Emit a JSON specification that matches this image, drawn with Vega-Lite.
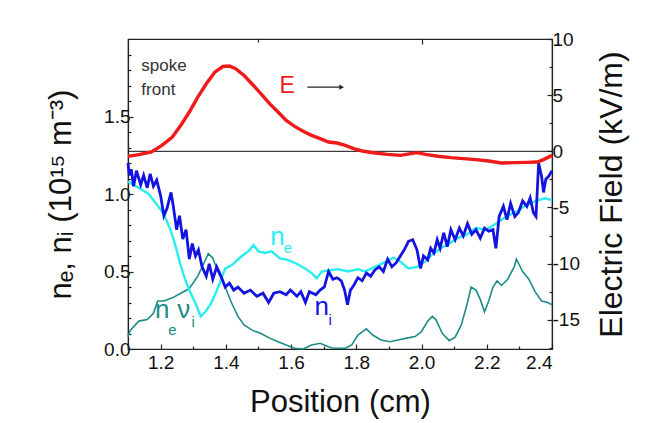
{
  "$schema": "https://vega.github.io/schema/vega-lite/v6.json",
  "width": 424,
  "height": 310,
  "autosize": {"type": "none"},
  "padding": {"left": 128, "top": 39, "right": 104, "bottom": 74},
  "background": "white",
  "config": {
    "font": "Liberation Sans",
    "view": {"stroke": "#222", "strokeWidth": 1.2},
    "axis": {
      "grid": false,
      "domainColor": "#222",
      "domainWidth": 1.2,
      "tickColor": "#222",
      "tickWidth": 1.2,
      "labelColor": "#111",
      "titleColor": "#111",
      "labelFont": "Liberation Sans",
      "titleFont": "Liberation Sans",
      "labelFontSize": 19,
      "titleFontSize": 31,
      "titleFontWeight": "normal",
      "labelOverlap": false
    }
  },
  "datasets": {
    "ne": [
      {"x": 1.10, "v": 1.08}, {"x": 1.133, "v": 1.04}, {"x": 1.163, "v": 1.00}, {"x": 1.189, "v": 0.93},
      {"x": 1.20, "v": 0.90}, {"x": 1.214, "v": 0.85}, {"x": 1.23, "v": 0.77}, {"x": 1.245, "v": 0.67},
      {"x": 1.26, "v": 0.55}, {"x": 1.275, "v": 0.45}, {"x": 1.29, "v": 0.37}, {"x": 1.306, "v": 0.30},
      {"x": 1.323, "v": 0.21}, {"x": 1.337, "v": 0.24}, {"x": 1.352, "v": 0.285}, {"x": 1.367, "v": 0.35},
      {"x": 1.383, "v": 0.435}, {"x": 1.398, "v": 0.52}, {"x": 1.418, "v": 0.54}, {"x": 1.449, "v": 0.60},
      {"x": 1.469, "v": 0.63}, {"x": 1.485, "v": 0.67}, {"x": 1.50, "v": 0.63}, {"x": 1.52, "v": 0.62},
      {"x": 1.54, "v": 0.63}, {"x": 1.566, "v": 0.585}, {"x": 1.59, "v": 0.575}, {"x": 1.617, "v": 0.55},
      {"x": 1.643, "v": 0.52}, {"x": 1.663, "v": 0.49}, {"x": 1.679, "v": 0.457}, {"x": 1.694, "v": 0.50},
      {"x": 1.725, "v": 0.51}, {"x": 1.743, "v": 0.515}, {"x": 1.774, "v": 0.50}, {"x": 1.805, "v": 0.515},
      {"x": 1.826, "v": 0.50}, {"x": 1.857, "v": 0.53}, {"x": 1.888, "v": 0.56}, {"x": 1.914, "v": 0.59},
      {"x": 1.934, "v": 0.565}, {"x": 1.96, "v": 0.52}, {"x": 1.986, "v": 0.53}, {"x": 2.012, "v": 0.565},
      {"x": 2.033, "v": 0.61}, {"x": 2.059, "v": 0.65}, {"x": 2.084, "v": 0.68}, {"x": 2.11, "v": 0.715},
      {"x": 2.136, "v": 0.735}, {"x": 2.167, "v": 0.78}, {"x": 2.198, "v": 0.77}, {"x": 2.229, "v": 0.81},
      {"x": 2.26, "v": 0.855}, {"x": 2.291, "v": 0.886}, {"x": 2.322, "v": 0.93}, {"x": 2.353, "v": 0.957},
      {"x": 2.379, "v": 0.972}, {"x": 2.40, "v": 0.96}
    ],
    "ni": [
      {"x": 1.10, "v": 1.20}, {"x": 1.104, "v": 1.12}, {"x": 1.11, "v": 1.16}, {"x": 1.117, "v": 1.05},
      {"x": 1.126, "v": 1.15}, {"x": 1.139, "v": 1.06}, {"x": 1.148, "v": 1.12}, {"x": 1.159, "v": 1.04},
      {"x": 1.168, "v": 1.13}, {"x": 1.178, "v": 1.05}, {"x": 1.188, "v": 1.09}, {"x": 1.20, "v": 0.99},
      {"x": 1.21, "v": 0.86}, {"x": 1.22, "v": 0.91}, {"x": 1.232, "v": 1.01}, {"x": 1.239, "v": 0.92},
      {"x": 1.249, "v": 0.77}, {"x": 1.258, "v": 0.86}, {"x": 1.268, "v": 0.71}, {"x": 1.278, "v": 0.77},
      {"x": 1.288, "v": 0.58}, {"x": 1.297, "v": 0.68}, {"x": 1.307, "v": 0.60}, {"x": 1.316, "v": 0.64},
      {"x": 1.327, "v": 0.53}, {"x": 1.34, "v": 0.47}, {"x": 1.349, "v": 0.55}, {"x": 1.36, "v": 0.45},
      {"x": 1.372, "v": 0.53}, {"x": 1.385, "v": 0.47}, {"x": 1.398, "v": 0.40}, {"x": 1.411, "v": 0.425},
      {"x": 1.424, "v": 0.38}, {"x": 1.437, "v": 0.40}, {"x": 1.456, "v": 0.36}, {"x": 1.475, "v": 0.38},
      {"x": 1.495, "v": 0.34}, {"x": 1.514, "v": 0.36}, {"x": 1.531, "v": 0.30}, {"x": 1.547, "v": 0.36},
      {"x": 1.566, "v": 0.37}, {"x": 1.585, "v": 0.35}, {"x": 1.598, "v": 0.38}, {"x": 1.618, "v": 0.34},
      {"x": 1.63, "v": 0.37}, {"x": 1.644, "v": 0.30}, {"x": 1.656, "v": 0.37}, {"x": 1.676, "v": 0.35},
      {"x": 1.689, "v": 0.38}, {"x": 1.702, "v": 0.40}, {"x": 1.715, "v": 0.50}, {"x": 1.728, "v": 0.45},
      {"x": 1.741, "v": 0.46}, {"x": 1.754, "v": 0.44}, {"x": 1.764, "v": 0.38}, {"x": 1.773, "v": 0.285},
      {"x": 1.782, "v": 0.38}, {"x": 1.792, "v": 0.41}, {"x": 1.805, "v": 0.46}, {"x": 1.818, "v": 0.44},
      {"x": 1.831, "v": 0.49}, {"x": 1.844, "v": 0.47}, {"x": 1.857, "v": 0.51}, {"x": 1.87, "v": 0.53},
      {"x": 1.883, "v": 0.50}, {"x": 1.896, "v": 0.58}, {"x": 1.909, "v": 0.53}, {"x": 1.922, "v": 0.555},
      {"x": 1.935, "v": 0.60}, {"x": 1.947, "v": 0.64}, {"x": 1.96, "v": 0.695}, {"x": 1.973, "v": 0.705},
      {"x": 1.986, "v": 0.64}, {"x": 1.997, "v": 0.52}, {"x": 2.006, "v": 0.60}, {"x": 2.019, "v": 0.575},
      {"x": 2.028, "v": 0.65}, {"x": 2.038, "v": 0.62}, {"x": 2.048, "v": 0.705}, {"x": 2.057, "v": 0.65},
      {"x": 2.068, "v": 0.75}, {"x": 2.079, "v": 0.66}, {"x": 2.09, "v": 0.77}, {"x": 2.103, "v": 0.705},
      {"x": 2.116, "v": 0.78}, {"x": 2.128, "v": 0.73}, {"x": 2.141, "v": 0.81}, {"x": 2.154, "v": 0.74},
      {"x": 2.167, "v": 0.77}, {"x": 2.18, "v": 0.715}, {"x": 2.193, "v": 0.78}, {"x": 2.206, "v": 0.76},
      {"x": 2.219, "v": 0.77}, {"x": 2.228, "v": 0.65}, {"x": 2.238, "v": 0.855}, {"x": 2.251, "v": 0.92},
      {"x": 2.262, "v": 0.835}, {"x": 2.273, "v": 0.94}, {"x": 2.286, "v": 0.855}, {"x": 2.297, "v": 0.88},
      {"x": 2.31, "v": 0.955}, {"x": 2.323, "v": 0.92}, {"x": 2.333, "v": 0.975}, {"x": 2.343, "v": 0.88},
      {"x": 2.351, "v": 0.855}, {"x": 2.359, "v": 1.20}, {"x": 2.368, "v": 1.115}, {"x": 2.374, "v": 1.01},
      {"x": 2.381, "v": 1.095}, {"x": 2.39, "v": 1.115}, {"x": 2.40, "v": 1.15}
    ],
    "nev": [
      {"x": 1.10, "v": 0.08}, {"x": 1.107, "v": 0.12}, {"x": 1.133, "v": 0.18}, {"x": 1.159, "v": 0.19},
      {"x": 1.178, "v": 0.23}, {"x": 1.191, "v": 0.31}, {"x": 1.21, "v": 0.31}, {"x": 1.236, "v": 0.33},
      {"x": 1.262, "v": 0.36}, {"x": 1.288, "v": 0.39}, {"x": 1.314, "v": 0.47}, {"x": 1.333, "v": 0.555},
      {"x": 1.346, "v": 0.615}, {"x": 1.359, "v": 0.59}, {"x": 1.378, "v": 0.49}, {"x": 1.398, "v": 0.40},
      {"x": 1.417, "v": 0.30}, {"x": 1.437, "v": 0.21}, {"x": 1.456, "v": 0.155}, {"x": 1.482, "v": 0.12},
      {"x": 1.508, "v": 0.10}, {"x": 1.534, "v": 0.07}, {"x": 1.56, "v": 0.047}, {"x": 1.585, "v": 0.026},
      {"x": 1.611, "v": 0.005}, {"x": 1.637, "v": 0.0}, {"x": 1.663, "v": 0.026}, {"x": 1.689, "v": 0.037},
      {"x": 1.715, "v": 0.015}, {"x": 1.728, "v": 0.005}, {"x": 1.766, "v": 0.005}, {"x": 1.786, "v": 0.026},
      {"x": 1.805, "v": 0.09}, {"x": 1.831, "v": 0.13}, {"x": 1.85, "v": 0.09}, {"x": 1.876, "v": 0.058},
      {"x": 1.902, "v": 0.047}, {"x": 1.928, "v": 0.058}, {"x": 1.954, "v": 0.07}, {"x": 1.98, "v": 0.08},
      {"x": 1.999, "v": 0.11}, {"x": 2.019, "v": 0.18}, {"x": 2.033, "v": 0.21}, {"x": 2.044, "v": 0.19},
      {"x": 2.064, "v": 0.10}, {"x": 2.085, "v": 0.054}, {"x": 2.103, "v": 0.076}, {"x": 2.122, "v": 0.155},
      {"x": 2.141, "v": 0.30}, {"x": 2.152, "v": 0.40}, {"x": 2.167, "v": 0.38}, {"x": 2.18, "v": 0.32},
      {"x": 2.193, "v": 0.24}, {"x": 2.206, "v": 0.31}, {"x": 2.219, "v": 0.40}, {"x": 2.232, "v": 0.44},
      {"x": 2.245, "v": 0.41}, {"x": 2.264, "v": 0.45}, {"x": 2.284, "v": 0.53}, {"x": 2.291, "v": 0.58},
      {"x": 2.31, "v": 0.50}, {"x": 2.329, "v": 0.45}, {"x": 2.348, "v": 0.37}, {"x": 2.368, "v": 0.31},
      {"x": 2.387, "v": 0.30}, {"x": 2.40, "v": 0.285}
    ],
    "efield": [
      {"x": 1.10, "e": -0.45}, {"x": 1.133, "e": -0.30}, {"x": 1.172, "e": -0.06}, {"x": 1.204, "e": 0.53},
      {"x": 1.236, "e": 1.27}, {"x": 1.262, "e": 2.31}, {"x": 1.288, "e": 3.50}, {"x": 1.314, "e": 4.83},
      {"x": 1.34, "e": 6.01}, {"x": 1.366, "e": 7.05}, {"x": 1.391, "e": 7.55}, {"x": 1.411, "e": 7.6},
      {"x": 1.43, "e": 7.35}, {"x": 1.456, "e": 6.75}, {"x": 1.482, "e": 5.95}, {"x": 1.508, "e": 5.12},
      {"x": 1.534, "e": 4.24}, {"x": 1.56, "e": 3.50}, {"x": 1.585, "e": 2.75}, {"x": 1.611, "e": 2.22},
      {"x": 1.637, "e": 1.78}, {"x": 1.663, "e": 1.42}, {"x": 1.689, "e": 1.13}, {"x": 1.715, "e": 0.83},
      {"x": 1.741, "e": 0.74}, {"x": 1.766, "e": 0.53}, {"x": 1.792, "e": 0.24}, {"x": 1.818, "e": 0.03},
      {"x": 1.857, "e": -0.15}, {"x": 1.896, "e": -0.27}, {"x": 1.935, "e": -0.36}, {"x": 1.967, "e": -0.21},
      {"x": 1.986, "e": -0.12}, {"x": 2.012, "e": -0.27}, {"x": 2.051, "e": -0.44}, {"x": 2.09, "e": -0.56},
      {"x": 2.128, "e": -0.65}, {"x": 2.167, "e": -0.74}, {"x": 2.206, "e": -0.86}, {"x": 2.245, "e": -1.04},
      {"x": 2.284, "e": -1.01}, {"x": 2.323, "e": -0.98}, {"x": 2.355, "e": -0.95}, {"x": 2.374, "e": -0.74},
      {"x": 2.40, "e": -0.36}
    ],
    "notes": [
      {"x": 1.141, "y": 1.823, "t": "spoke"},
      {"x": 1.141, "y": 1.674, "t": "front"}
    ],
    "elabel": [{"x": 1.588, "y": 1.696, "t": "E"}],
    "arrow": [{"x": 1.650, "x2": 1.752, "y": 1.689}],
    "arrowhead": [{"x": 1.755, "y": 1.689}],
    "letters": [
      {"x": 1.558, "y": 0.724, "t": "n", "s": "ne"},
      {"x": 1.694, "y": 0.268, "t": "n", "s": "ni"},
      {"x": 1.205, "y": 0.249, "t": "n", "s": "nev"},
      {"x": 1.271, "y": 0.249, "t": "ν", "s": "nev"}
    ],
    "subs": [
      {"x": 1.590, "y": 0.650, "t": "e", "s": "ne"},
      {"x": 1.720, "y": 0.187, "t": "i", "s": "ni"},
      {"x": 1.236, "y": 0.123, "t": "e", "s": "nev"},
      {"x": 1.300, "y": 0.175, "t": "i", "s": "nev"}
    ]
  },
  "resolve": {"scale": {"y": "independent"}, "axis": {"x": "independent", "y": "independent"}},
  "layer": [
    {
      "data": {"name": "nev"},
      "mark": {"type": "line", "color": "#1e8c86", "strokeWidth": 1.6},
      "encoding": {
        "x": {
          "field": "x", "type": "quantitative",
          "scale": {"domain": [1.1, 2.4], "nice": false, "zero": false},
          "axis": {
            "orient": "bottom",
            "values": [1.1, 1.2, 1.3, 1.4, 1.5, 1.6, 1.7, 1.8, 1.9, 2.0, 2.1, 2.2, 2.3, 2.4],
            "labelExpr": "abs(round(datum.value*5) - datum.value*5) < 0.001 ? format(datum.value, '.1f') : ''",
            "tickSize": {"condition": {"test": "abs(round(datum.value*5) - datum.value*5) < 0.001", "value": -5}, "value": -3},
            "labelPadding": 9,
            "title": "Position (cm)",
            "titlePadding": 13
          }
        },
        "y": {
          "field": "v", "type": "quantitative",
          "scale": {"domain": [0, 2.0], "nice": false, "zero": false},
          "axis": {
            "orient": "left",
            "values": [0, 0.1, 0.2, 0.3, 0.4, 0.5, 0.6, 0.7, 0.8, 0.9, 1.0, 1.1, 1.2, 1.3, 1.4, 1.5, 1.6, 1.7, 1.8, 1.9],
            "labelExpr": "abs(round(datum.value*2) - datum.value*2) < 0.001 ? format(datum.value, '.1f') : ''",
            "tickSize": {"condition": {"test": "abs(round(datum.value*2) - datum.value*2) < 0.001", "value": -5}, "value": -3},
            "labelPadding": 3,
            "title": "nₑ, nᵢ (10¹⁵ m⁻³)",
            "titlePadding": 26
          }
        }
      }
    },
    {
      "data": {"name": "ne"},
      "mark": {"type": "line", "color": "#2aeeee", "strokeWidth": 2.4},
      "encoding": {
        "x": {"field": "x", "type": "quantitative", "scale": {"domain": [1.1, 2.4], "nice": false, "zero": false}, "axis": null},
        "y": {"field": "v", "type": "quantitative", "scale": {"domain": [0, 2.0], "nice": false, "zero": false}, "axis": null}
      }
    },
    {
      "data": {"name": "ni"},
      "mark": {"type": "line", "color": "#1414e0", "strokeWidth": 2.8},
      "encoding": {
        "x": {"field": "x", "type": "quantitative", "scale": {"domain": [1.1, 2.4], "nice": false, "zero": false}, "axis": null},
        "y": {"field": "v", "type": "quantitative", "scale": {"domain": [0, 2.0], "nice": false, "zero": false}, "axis": null}
      }
    },
    {
      "data": {"values": [{}]},
      "mark": {"type": "rule", "color": "#111", "strokeWidth": 1},
      "encoding": {
        "y": {"datum": 0, "type": "quantitative", "scale": {"domain": [-17.6, 10], "nice": false, "zero": false}, "axis": null}
      }
    },
    {
      "data": {"name": "efield"},
      "mark": {"type": "line", "color": "#f01a1a", "strokeWidth": 3.4},
      "encoding": {
        "x": {"field": "x", "type": "quantitative", "scale": {"domain": [1.1, 2.4], "nice": false, "zero": false}, "axis": null},
        "y": {
          "field": "e", "type": "quantitative",
          "scale": {"domain": [-17.6, 10], "nice": false, "zero": false},
          "axis": {
            "orient": "right",
            "values": [-17.5, -15, -12.5, -10, -7.5, -5, -2.5, 0, 2.5, 5, 7.5, 10],
            "labelExpr": "abs(round(datum.value/5) - datum.value/5) < 0.001 ? '' + datum.value : ''",
            "tickSize": {"condition": {"test": "abs(round(datum.value/5) - datum.value/5) < 0.001", "value": -5}, "value": -3},
            "labelPadding": 5,
            "title": "Electric Field (kV/m)",
            "titleFontSize": 32,
            "titleAngle": 270,
            "titleBaseline": "top",
            "titlePadding": 17
          }
        }
      }
    },
    {
      "data": {"name": "notes"},
      "mark": {"type": "text", "color": "#333", "fontSize": 17, "align": "left", "baseline": "middle", "font": "Liberation Sans"},
      "encoding": {
        "x": {
          "field": "x", "type": "quantitative", "scale": {"domain": [1.1, 2.4], "nice": false, "zero": false},
          "axis": {
            "orient": "top", "values": [1.5, 2.0], "labels": false, "domain": false, "title": null,
            "tickSize": {"condition": {"test": "datum.value == 2", "value": -5}, "value": -3}
          }
        },
        "y": {"field": "y", "type": "quantitative", "scale": {"domain": [0, 2.0], "nice": false, "zero": false}, "axis": null},
        "text": {"field": "t"}
      }
    },
    {
      "data": {"name": "elabel"},
      "mark": {"type": "text", "color": "#f01a1a", "fontSize": 23, "align": "center", "baseline": "middle", "font": "Liberation Sans"},
      "encoding": {
        "x": {"field": "x", "type": "quantitative", "scale": {"domain": [1.1, 2.4], "nice": false, "zero": false}, "axis": null},
        "y": {"field": "y", "type": "quantitative", "scale": {"domain": [0, 2.0], "nice": false, "zero": false}, "axis": null},
        "text": {"field": "t"}
      }
    },
    {
      "data": {"name": "arrow"},
      "mark": {"type": "rule", "color": "#222", "strokeWidth": 1.3},
      "encoding": {
        "x": {"field": "x", "type": "quantitative", "scale": {"domain": [1.1, 2.4], "nice": false, "zero": false}, "axis": null},
        "x2": {"field": "x2"},
        "y": {"field": "y", "type": "quantitative", "scale": {"domain": [0, 2.0], "nice": false, "zero": false}, "axis": null}
      }
    },
    {
      "data": {"name": "arrowhead"},
      "mark": {"type": "point", "shape": "triangle-right", "filled": true, "color": "#222", "size": 28, "opacity": 1},
      "encoding": {
        "x": {"field": "x", "type": "quantitative", "scale": {"domain": [1.1, 2.4], "nice": false, "zero": false}, "axis": null},
        "y": {"field": "y", "type": "quantitative", "scale": {"domain": [0, 2.0], "nice": false, "zero": false}, "axis": null}
      }
    },
    {
      "data": {"name": "letters"},
      "mark": {"type": "text", "fontSize": 26, "align": "center", "baseline": "middle", "font": "Liberation Sans"},
      "encoding": {
        "x": {"field": "x", "type": "quantitative", "scale": {"domain": [1.1, 2.4], "nice": false, "zero": false}, "axis": null},
        "y": {"field": "y", "type": "quantitative", "scale": {"domain": [0, 2.0], "nice": false, "zero": false}, "axis": null},
        "text": {"field": "t"},
        "color": {"field": "s", "type": "nominal", "scale": {"domain": ["nev", "ne", "ni"], "range": ["#1e8c86", "#2aeeee", "#1414e0"]}, "legend": null}
      }
    },
    {
      "data": {"name": "subs"},
      "mark": {"type": "text", "fontSize": 15, "align": "center", "baseline": "middle", "font": "Liberation Sans"},
      "encoding": {
        "x": {"field": "x", "type": "quantitative", "scale": {"domain": [1.1, 2.4], "nice": false, "zero": false}, "axis": null},
        "y": {"field": "y", "type": "quantitative", "scale": {"domain": [0, 2.0], "nice": false, "zero": false}, "axis": null},
        "text": {"field": "t"},
        "color": {"field": "s", "type": "nominal", "scale": {"domain": ["nev", "ne", "ni"], "range": ["#1e8c86", "#2aeeee", "#1414e0"]}, "legend": null}
      }
    }
  ]
}
